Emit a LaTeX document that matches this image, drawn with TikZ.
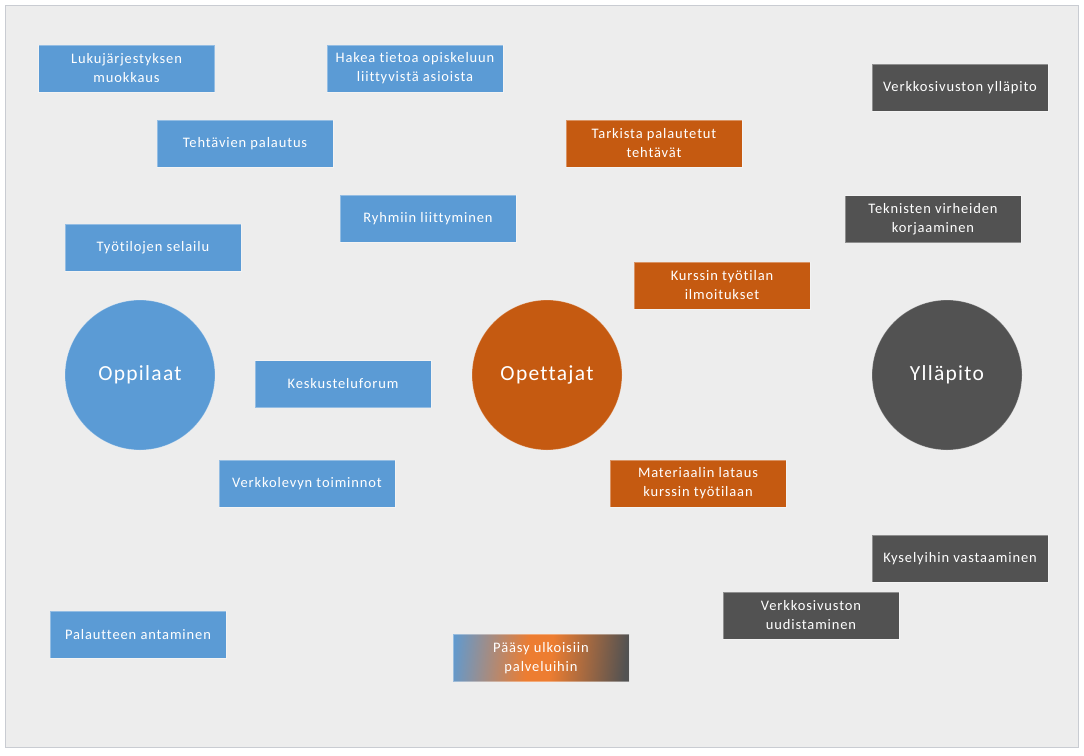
\documentclass[tikz,border=0pt]{standalone}
\usepackage{fontspec}
\setmainfont{Carlito}
\newfontfamily\boxfont[LetterSpace=6,Ligatures=NoCommon]{Carlito}
\definecolor{bgc}{HTML}{EDEDED}
\definecolor{framec}{HTML}{C9CCD2}
\definecolor{bluec}{HTML}{5B9BD5}
\definecolor{orangec}{HTML}{C55A11}
\definecolor{grayc}{HTML}{525252}
\definecolor{gradorange}{HTML}{ED7D31}
\pgfdeclarehorizontalshading{triblend}{100bp}{color(0bp)=(bluec); color(22bp)=(bluec); color(46bp)=(gradorange); color(53bp)=(gradorange); color(76bp)=(grayc); color(100bp)=(grayc)}
\tikzset{
  box/.style={rectangle, minimum width=176pt, minimum height=47pt, inner sep=2pt,
    text=white, align=center, font=\boxfont\fontsize{14.5}{19}\selectfont,
    draw=white, draw opacity=0.35, line width=0.8pt},
  bbox/.style={box, fill=bluec},
  obox/.style={box, fill=orangec},
  gbox/.style={box, fill=grayc},
  actor/.style={circle, minimum size=150pt, inner sep=0pt, text=white,
    font=\boxfont\fontsize{21.5}{24}\selectfont, draw=white, draw opacity=0.3, line width=0.8pt},
}
\begin{document}
\begin{tikzpicture}[x=1pt,y=-1pt]
\useasboundingbox (0,0) rectangle (1084,755);
\fill[white] (0,0) rectangle (1084,755);
\draw[framec, fill=bgc, line width=1pt] (5.5,5.5) rectangle (1078,747);
% actors
\node[actor, fill=bluec] (opp) at (140,375) {Oppilaat};
\node[actor, fill=orangec] (ope) at (547,375) {Opettajat};
\node[actor, fill=grayc] (yll) at (947,375) {Ylläpito};
% blue boxes
\node[bbox] (b1) at (126.5,68.5) {Lukujärjestyksen\\muokkaus};
\node[bbox] (b2) at (415,68.5) {Hakea tietoa opiskeluun\\liittyvistä asioista};
\node[bbox] (b3) at (245,143.5) {Tehtävien palautus};
\node[bbox] (b4) at (428,218.5) {Ryhmiin liittyminen};
\node[bbox] (b5) at (153,247.5) {Työtilojen selailu};
\node[bbox] (b6) at (343,384) {Keskusteluforum};
\node[bbox] (b7) at (307,483.5) {Verkkolevyn toiminnot};
\node[bbox] (b8) at (138,634.5) {Palautteen antaminen};
% orange boxes
\node[obox] (o1) at (654,143.5) {Tarkista palautetut\\tehtävät};
\node[obox] (o2) at (722,285.5) {Kurssin työtilan\\ilmoitukset};
\node[obox] (o3) at (698,483.5) {Materiaalin lataus\\kurssin työtilaan};
% gray boxes
\node[gbox] (g1) at (960,87.5) {Verkkosivuston ylläpito};
\node[gbox] (g2) at (933,219) {Teknisten virheiden\\korjaaminen};
\node[gbox] (g3) at (960,558.5) {Kyselyihin vastaaminen};
\node[gbox] (g4) at (811,615.5) {Verkkosivuston\\uudistaminen};
% gradient box
\node[box, shading=triblend, shading angle=-6] (m1) at (541,658) {Pääsy ulkoisiin\\palveluihin};
\end{tikzpicture}
\end{document}
